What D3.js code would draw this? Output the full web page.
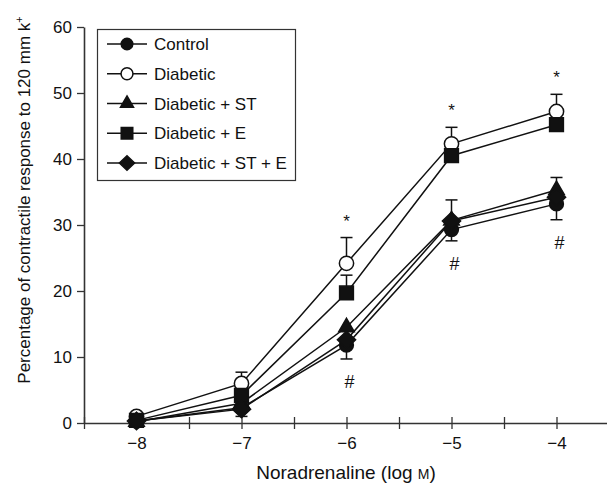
<!DOCTYPE html>
<html>
<head>
<meta charset="utf-8">
<script src="https://cdn.jsdelivr.net/npm/d3@7"></script>
<style>
  body { margin: 0; background: #fff; }
  text { font-family: "Liberation Sans", Arial, sans-serif; fill: #111; }
</style>
</head>
<body>
<div id="chart"></div>
<script>
// doses (log M)
const doses = [-8, -7, -6, -5, -4];
const xTicks = [-8.5, -8, -7.5, -7, -6.5, -6, -5.5, -5, -4.5, -4, -3.5];
const yTicks = [0, 10, 20, 30, 40, 50, 60];

const seriesNames = ["Control", "Diabetic", "Diabetic + ST", "Diabetic + E", "Diabetic + ST + E"];
const control = [0.3, 2.3, 11.8, 29.3, 33.2];
const diabetic = [1.0, 6.0, 24.2, 42.3, 47.2];
const diabeticST = [0.2, 3.0, 14.5, 30.7, 35.3];
const diabeticE = [0.4, 4.2, 19.7, 40.5, 45.2];
const diabeticSTE = [0.3, 2.1, 12.6, 30.6, 34.2];

// error bars (SEM), drawn up or down
const controlErr = [0, 1.3, 2.1, 1.7, 2.4];
const diabeticErr = [0, 1.7, 3.9, 2.5, 2.6];
const diabeticSTErr = [0, 0, 0, 0, 1.9];
const diabeticEErr = [0, 0, 2.7, 0, 0];
const diabeticSTEErr = [0, 0, 0, 3.2, 0];

// significance marks
const starDoses = [-6, -5, -4];
const hashDoses = [-6, -5, -4];

const width = 607, height = 485;

const svg = d3.select("#chart").append("svg")
    .attr("width", width)
    .attr("height", height);

const x = d3.scaleLinear().domain([-8.5, -3.5]).range([84, 609]);
const y = d3.scaleLinear().domain([0, 60]).range([423, 27]);

// wide diamond = square turned 45 degrees
const symbolWideDiamond = {
    draw(context, size) {
        const r = Math.sqrt(size / 2);
        context.moveTo(0, -r);
        context.lineTo(r * 1.05, 0);
        context.lineTo(0, r);
        context.lineTo(-r * 1.05, 0);
        context.closePath();
    }
};

const series = [
    { name: seriesNames[0], values: control, err: controlErr, dir: -1, symbol: d3.symbolCircle, size: 150, fill: "#111" },
    { name: seriesNames[1], values: diabetic, err: diabeticErr, dir: 1, symbol: d3.symbolCircle, size: 160, fill: "#fff" },
    { name: seriesNames[2], values: diabeticST, err: diabeticSTErr, dir: 1, symbol: d3.symbolTriangle, size: 105, fill: "#111" },
    { name: seriesNames[3], values: diabeticE, err: diabeticEErr, dir: 1, symbol: d3.symbolSquare, size: 190, fill: "#111" },
    { name: seriesNames[4], values: diabeticSTE, err: diabeticSTEErr, dir: 1, symbol: symbolWideDiamond, size: 150, fill: "#111" }
];

// y axis
const yAxis = svg.append("g")
    .attr("transform", "translate(84,0)")
    .call(d3.axisLeft(y).tickValues(yTicks).tickSize(7).tickPadding(5).tickSizeOuter(0));
yAxis.select(".domain").attr("stroke", "#333").attr("stroke-width", 1.6);
yAxis.selectAll(".tick line").attr("stroke", "#333").attr("stroke-width", 1.3);
yAxis.selectAll(".tick text").attr("font-size", 17).attr("font-family", "Liberation Sans, Arial, sans-serif").attr("fill", "#111");

// x axis (ticks cross the line)
const xAxis = svg.append("g")
    .attr("transform", "translate(0," + y(0) + ")")
    .call(d3.axisBottom(x).tickValues(xTicks).tickSize(6).tickSizeOuter(0)
        .tickFormat(d => Number.isInteger(d) && d > -8.5 && d < -3.5 ? d3.format("d")(d) : ""));
xAxis.select(".domain").attr("stroke", "#333").attr("stroke-width", 1.6);
xAxis.selectAll(".tick line").attr("y1", -6).attr("stroke", "#333").attr("stroke-width", 1.3);
xAxis.selectAll(".tick text").attr("y", 14).attr("font-size", 17)
    .attr("font-family", "Liberation Sans, Arial, sans-serif").attr("fill", "#111");

// axis titles
const xTitle = svg.append("text")
    .attr("x", 346).attr("y", 479)
    .attr("text-anchor", "middle")
    .attr("font-size", 19)
    .text("Noradrenaline (log ");
xTitle.append("tspan").attr("font-size", 14).text("M");
xTitle.append("tspan").text(")");

const yTitle = svg.append("text")
    .attr("transform", "translate(30,200) rotate(-90)")
    .attr("text-anchor", "middle")
    .attr("font-size", 17)
    .text("Percentage of contractile response to 120 mm k");
yTitle.append("tspan").attr("dy", -7).attr("font-size", 11).text("+");

const line = d3.line()
    .x((d, i) => x(doses[i]))
    .y(d => y(d));

// error bars
series.forEach(s => {
    const g = svg.append("g");
    s.values.forEach((v, i) => {
        if (!s.err[i]) return;
        const yEnd = y(v + s.dir * s.err[i]);
        g.append("line")
            .attr("x1", x(doses[i])).attr("x2", x(doses[i]))
            .attr("y1", y(v)).attr("y2", yEnd)
            .attr("stroke", "#111").attr("stroke-width", 1.5);
        g.append("line")
            .attr("x1", x(doses[i]) - 6).attr("x2", x(doses[i]) + 6)
            .attr("y1", yEnd).attr("y2", yEnd)
            .attr("stroke", "#111").attr("stroke-width", 1.5);
    });
});

// lines
series.forEach(s => {
    svg.append("path")
        .datum(s.values)
        .attr("d", line)
        .attr("fill", "none")
        .attr("stroke", "#111")
        .attr("stroke-width", 1.5);
});

// markers
series.forEach(s => {
    svg.append("g").selectAll("path")
        .data(s.values)
        .enter().append("path")
        .attr("transform", (d, i) => "translate(" + x(doses[i]) + "," + y(d) + ")")
        .attr("d", d3.symbol().type(s.symbol).size(s.size))
        .attr("fill", s.fill)
        .attr("stroke", "#111")
        .attr("stroke-width", 1.5);
});

// significance marks
starDoses.forEach(dose => {
    const i = doses.indexOf(dose);
    svg.append("text")
        .attr("x", x(dose)).attr("y", y(diabetic[i] + diabeticErr[i]) - 11)
        .attr("text-anchor", "middle")
        .attr("font-size", 17)
        .text("*");
});
hashDoses.forEach(dose => {
    const i = doses.indexOf(dose);
    svg.append("text")
        .attr("x", x(dose) + 3).attr("y", y(control[i] - controlErr[i]) + 29)
        .attr("text-anchor", "middle")
        .attr("font-size", 18)
        .text("#");
});

// legend
const legend = svg.append("g");
legend.append("rect")
    .attr("x", 97.5).attr("y", 29.5)
    .attr("width", 198).attr("height", 151)
    .attr("fill", "#fff")
    .attr("stroke", "#333")
    .attr("stroke-width", 1.2);

const legendY = d3.scalePoint().domain(seriesNames).range([44, 163]);

series.forEach(s => {
    const ly = legendY(s.name);
    legend.append("line")
        .attr("x1", 107).attr("x2", 147)
        .attr("y1", ly).attr("y2", ly)
        .attr("stroke", "#111").attr("stroke-width", 1.5);
    legend.append("path")
        .attr("transform", "translate(127," + ly + ")")
        .attr("d", d3.symbol().type(s.symbol).size(s.size * 0.7))
        .attr("fill", s.fill)
        .attr("stroke", "#111")
        .attr("stroke-width", 1.5);
    legend.append("text")
        .attr("x", 154).attr("y", ly + 6)
        .attr("font-size", 17)
        .text(s.name);
});
</script>
</body>
</html>
